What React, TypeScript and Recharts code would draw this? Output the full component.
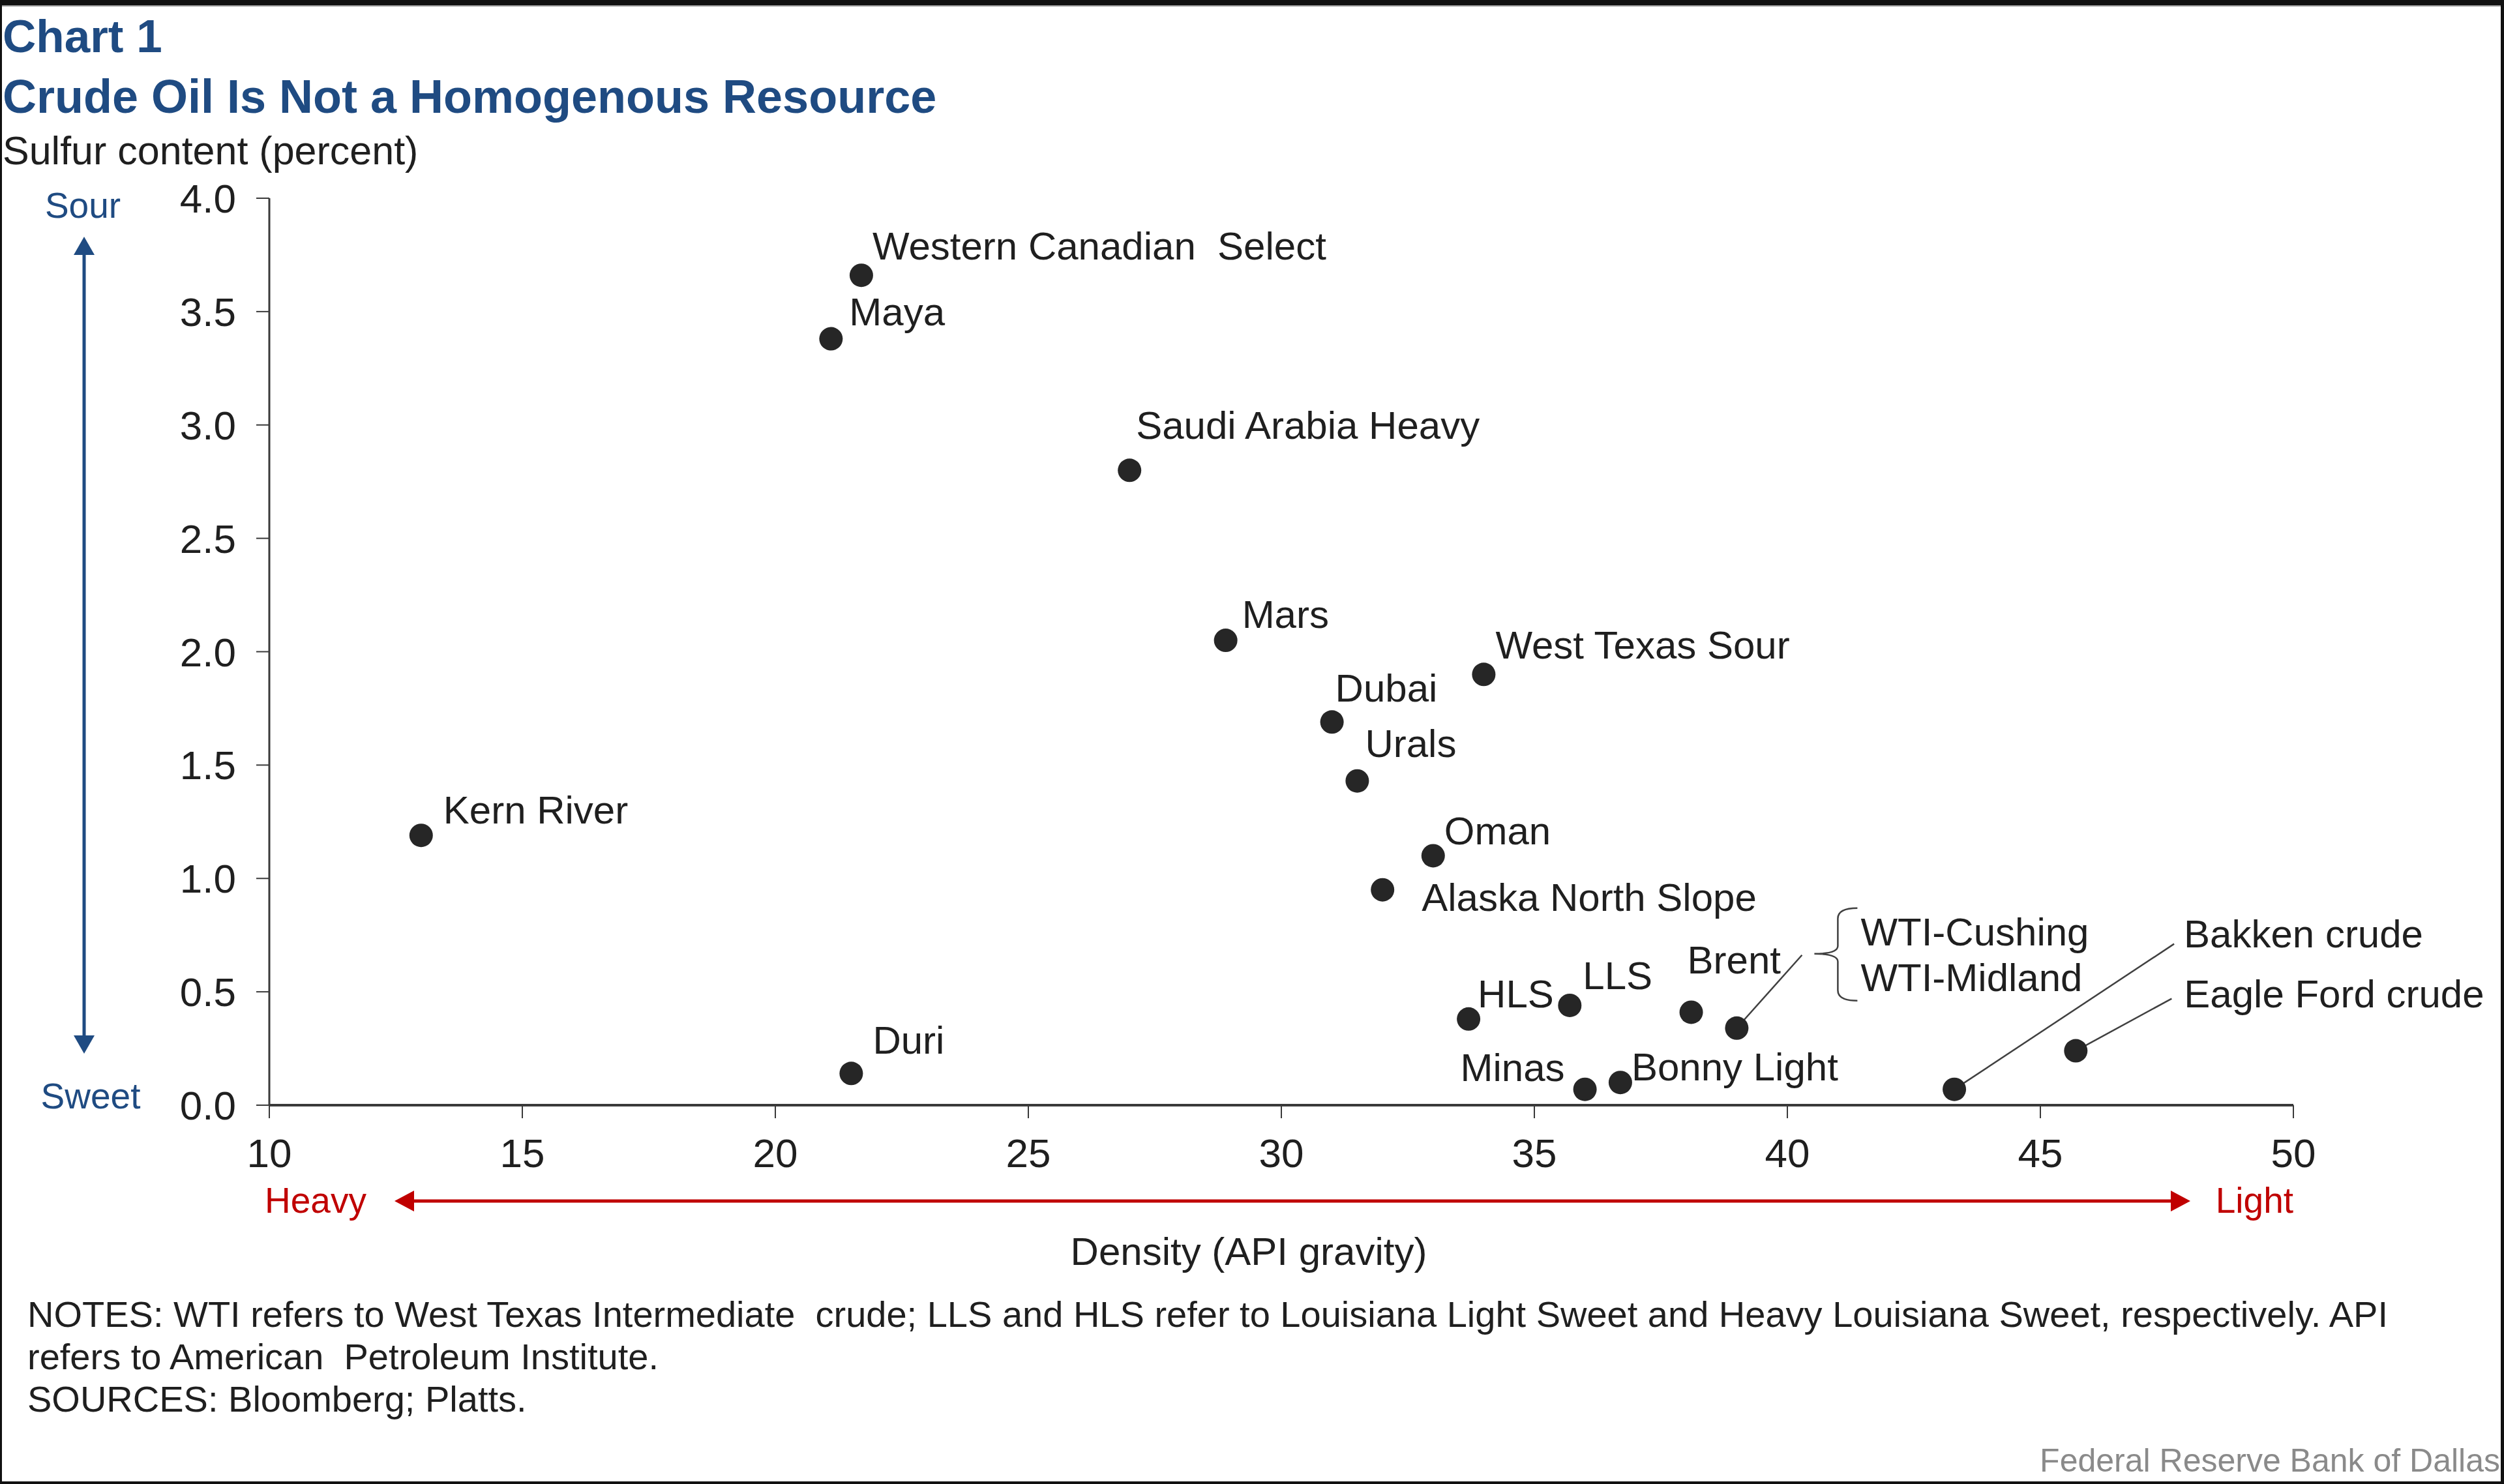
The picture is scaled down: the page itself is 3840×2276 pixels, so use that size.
import React from "react";
import { ScatterChart, Scatter, XAxis, YAxis } from "recharts";

// ---------- data ----------
const crudeNames = [
  "Western Canadian Select",
  "Maya",
  "Saudi Arabia Heavy",
  "Mars",
  "West Texas Sour",
  "Dubai",
  "Urals",
  "Oman",
  "Alaska North Slope",
  "Kern River",
  "Duri",
  "HLS",
  "LLS",
  "Brent",
  "WTI",
  "Minas",
  "Bonny Light",
  "Bakken crude",
  "Eagle Ford crude",
];
const apiGravity = [21.7, 21.1, 27.0, 28.9, 34.0, 31.0, 31.5, 33.0, 32.0, 13.0, 21.5, 33.7, 35.7, 38.1, 39.0, 36.0, 36.7, 43.3, 45.7];
const sulfurContent = [3.66, 3.38, 2.8, 2.05, 1.9, 1.69, 1.43, 1.1, 0.95, 1.19, 0.14, 0.38, 0.44, 0.41, 0.34, 0.07, 0.1, 0.07, 0.24];
const xTicks = [10, 15, 20, 25, 30, 35, 40, 45, 50];
const yTicks = [0, 0.5, 1, 1.5, 2, 2.5, 3, 3.5, 4];
const wtiNames = ["WTI-Cushing", "WTI-Midland"];

const points = crudeNames.map((name, i) => ({ name, x: apiGravity[i], y: sulfurContent[i] }));

// ---------- layout (label placement relative to each dot) ----------
type Lab = { dx: number; dy: number; anchor?: "start" | "end"; leader?: [number, number]; text?: string };
const LABEL_LAYOUT: Record<string, Lab> = {
  "Western Canadian Select": { dx: 17, dy: -24, text: "Western Canadian\u00a0 Select" },
  Maya: { dx: 28, dy: -21 },
  "Saudi Arabia Heavy": { dx: 10, dy: -48 },
  Mars: { dx: 25, dy: -19 },
  "West Texas Sour": { dx: 18, dy: -24 },
  Dubai: { dx: 5, dy: -31 },
  Urals: { dx: 12, dy: -37 },
  Oman: { dx: 17, dy: -17 },
  "Alaska North Slope": { dx: 60, dy: 32 },
  "Kern River": { dx: 34, dy: -18 },
  Duri: { dx: 33, dy: -30 },
  HLS: { dx: 14, dy: -18 },
  LLS: { dx: 20, dy: -25 },
  Brent: { dx: -6, dy: -59 },
  Minas: { dx: -31, dy: -13, anchor: "end" },
  "Bonny Light": { dx: 17, dy: -3 },
  "Bakken crude": { dx: 352, dy: -218, leader: [337, -223] },
  "Eagle Ford crude": { dx: 166, dy: -67, leader: [147, -80] },
};

const FONT = "'Liberation Sans', Arial, Helvetica, sans-serif";
const BLUE = "#1F4B82";
const RED = "#C00000";
const INK = "#1f1f1f";

const W = 3840;
const H = 2276;
const PLOT_LEFT = 413;
const PLOT_RIGHT = 3517;
const PLOT_TOP = 304;
const PLOT_BOTTOM = 1695;
const Y_AXIS_W = 120;
const X_AXIS_H = 100;

const renderPoint = (props: any) => {
  const { cx, cy, payload } = props;
  if (cx == null || cy == null) return <g />;
  const name: string = payload.name;
  const lab = LABEL_LAYOUT[name];
  const labelStyle = { fontFamily: FONT, fontSize: 60, fill: INK } as const;
  if (name === "WTI") {
    const tipX = cx + 119;
    const midY = cy - 114;
    const sx = cx + 155;
    const hx = cx + 185;
    const top = cy - 184;
    const bot = cy - 42;
    const d = `M ${hx} ${top} Q ${sx} ${top} ${sx} ${top + 16} L ${sx} ${midY - 12} Q ${sx} ${midY} ${tipX} ${midY} Q ${sx} ${midY} ${sx} ${midY + 12} L ${sx} ${bot - 16} Q ${sx} ${bot} ${hx} ${bot}`;
    return (
      <g>
        <line x1={cx} y1={cy} x2={cx + 100} y2={cy - 112} stroke="#404040" strokeWidth={2.5} />
        <circle cx={cx} cy={cy} r={18} fill="#262626" />
        <path d={d} fill="none" stroke="#404040" strokeWidth={2.5} />
        <text x={cx + 190} y={cy - 127} style={labelStyle}>{wtiNames[0]}</text>
        <text x={cx + 190} y={cy - 57} style={labelStyle}>{wtiNames[1]}</text>
      </g>
    );
  }
  return (
    <g>
      {lab && lab.leader && (
        <line x1={cx} y1={cy} x2={cx + lab.leader[0]} y2={cy + lab.leader[1]} stroke="#404040" strokeWidth={2.5} />
      )}
      <circle cx={cx} cy={cy} r={18} fill="#262626" />
      {lab && (
        <text x={cx + lab.dx} y={cy + lab.dy} textAnchor={lab.anchor || "start"} style={labelStyle}>
          {lab.text || name}
        </text>
      )}
    </g>
  );
};

const noteStyle = { fontFamily: FONT, fontSize: 56, fill: INK } as const;

const Overlay = () => (
  <svg
    width={W}
    height={H}
    style={{ position: "absolute", left: 0, top: 0, pointerEvents: "none" }}
  >
    {/* frame */}
    <rect x={0} y={0} width={W} height={8} fill="#111" />
    <rect x={0} y={8} width={W} height={2} fill="#999" />
    <rect x={0} y={0} width={3} height={H} fill="#111" />
    <rect x={W - 5} y={0} width={5} height={H} fill="#111" />
    <rect x={0} y={H - 4} width={W} height={4} fill="#111" />

    {/* titles */}
    <text x={4} y={80} style={{ fontFamily: FONT, fontSize: 71, fontWeight: 700, fill: BLUE }}>Chart 1</text>
    <text x={4} y={173} style={{ fontFamily: FONT, fontSize: 72, fontWeight: 700, fill: BLUE }}>
      Crude Oil Is Not a Homogenous Resource
    </text>
    <text x={4} y={252} style={{ fontFamily: FONT, fontSize: 61, fill: INK }}>Sulfur content (percent)</text>

    {/* sour / sweet arrow */}
    <text x={127} y={334} textAnchor="middle" style={{ fontFamily: FONT, fontSize: 55, fill: BLUE }}>Sour</text>
    <text x={139} y={1700} textAnchor="middle" style={{ fontFamily: FONT, fontSize: 55, fill: BLUE }}>Sweet</text>
    <line x1={129} y1={385} x2={129} y2={1594} stroke={BLUE} strokeWidth={5} />
    <polygon points="129,363 113,391 145,391" fill={BLUE} />
    <polygon points="129,1616 113,1588 145,1588" fill={BLUE} />

    {/* heavy / light arrow */}
    <text x={406} y={1860} style={{ fontFamily: FONT, fontSize: 55, fill: RED }}>Heavy</text>
    <text x={3517} y={1860} textAnchor="end" style={{ fontFamily: FONT, fontSize: 55, fill: RED }}>Light</text>
    <line x1={630} y1={1842} x2={3334} y2={1842} stroke={RED} strokeWidth={5} />
    <polygon points="605,1842 635,1826 635,1858" fill={RED} />
    <polygon points="3359,1842 3329,1826 3329,1858" fill={RED} />

    {/* x axis title */}
    <text x={1915} y={1940} textAnchor="middle" style={{ fontFamily: FONT, fontSize: 60, fill: INK }}>
      Density (API gravity)
    </text>

    {/* notes */}
    <text x={42} y={2035} style={noteStyle}>
      {"NOTES: WTI refers to West Texas Intermediate\u00a0 crude; LLS and HLS refer to Louisiana Light Sweet and Heavy Louisiana Sweet, respectively. API"}
    </text>
    <text x={42} y={2100} style={noteStyle}>
      {"refers to American\u00a0 Petroleum Institute."}
    </text>
    <text x={42} y={2165} style={noteStyle}>
      SOURCES: Bloomberg; Platts.
    </text>
    <text x={3834} y={2257} textAnchor="end" style={{ fontFamily: FONT, fontSize: 50, fill: "#8a8a8a" }}>
      Federal Reserve Bank of Dallas
    </text>
  </svg>
);

export default function App() {
  return (
    <div style={{ position: "absolute", left: 0, top: 0, width: W, height: H, background: "#fff", overflow: "hidden" }}>
      <ScatterChart
        width={W}
        height={H}
        margin={{
          top: PLOT_TOP,
          left: PLOT_LEFT - Y_AXIS_W,
          right: W - PLOT_RIGHT,
          bottom: H - PLOT_BOTTOM - X_AXIS_H,
        }}
      >
        <XAxis
          type="number"
          dataKey="x"
          domain={[10, 50]}
          ticks={xTicks}
          interval={0}
          height={X_AXIS_H}
          tickSize={20}
          tickMargin={31}
          axisLine={{ stroke: "#3a3a3a", strokeWidth: 4 }}
          tickLine={{ stroke: "#3a3a3a", strokeWidth: 2 }}
          tick={{ fontFamily: FONT, fontSize: 62, fill: INK }}
        />
        <YAxis
          type="number"
          dataKey="y"
          domain={[0, 4]}
          ticks={yTicks}
          interval={0}
          width={Y_AXIS_W}
          tickSize={20}
          tickMargin={31}
          tickFormatter={(v: number) => v.toFixed(1)}
          axisLine={{ stroke: "#3a3a3a", strokeWidth: 3 }}
          tickLine={{ stroke: "#3a3a3a", strokeWidth: 2 }}
          tick={{ fontFamily: FONT, fontSize: 62, fill: INK }}
        />
        <Scatter data={points} dataKey="y" shape={renderPoint} isAnimationActive={false} />
      </ScatterChart>
      <Overlay />
    </div>
  );
}
